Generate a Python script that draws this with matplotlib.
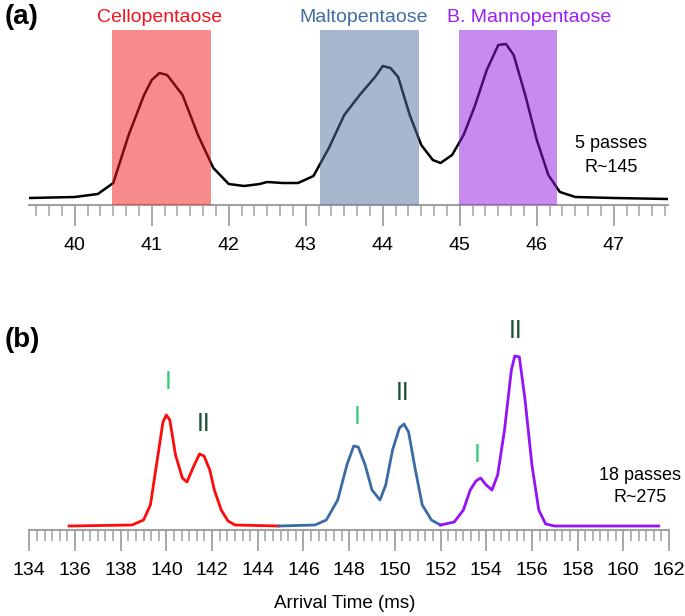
import numpy as np
import matplotlib.pyplot as plt
from matplotlib.ticker import MultipleLocator

plt.rcParams['font.family'] = ['Liberation Sans', 'DejaVu Sans']

# (a) 5 passes, mixture trace
t_a = [39.41, 40.0, 40.3, 40.5, 40.7, 40.9, 41.0, 41.1, 41.2, 41.4, 41.6, 41.8,
       42.0, 42.2, 42.4, 42.5, 42.7, 42.9, 43.1, 43.3, 43.5, 43.7, 43.9, 44.0,
       44.1, 44.2, 44.35, 44.5, 44.65, 44.75, 44.9, 45.05, 45.2, 45.35, 45.5,
       45.6, 45.7, 45.85, 46.0, 46.15, 46.3, 46.5, 47.0, 47.7]
i_a = [7, 8, 11, 22, 70, 110, 125, 132, 130, 110, 70, 37,
       21, 19, 21, 23, 22, 22, 29, 57, 90, 110, 128, 139,
       137, 128, 90, 60, 45, 42, 50, 70, 100, 135, 160,
       161, 150, 110, 65, 30, 13, 8, 7, 6]

# shaded windows
box_names = ['Cellopentaose', 'Maltopentaose', 'B. Mannopentaose']
box_start = [40.49, 43.18, 44.99]
box_end = [41.77, 44.47, 46.26]
box_colors = ['#f11919', '#50709c', '#9119e1']
name_colors = ['#f0141e', '#3f6ea3', '#9b1ef5']

# (b) 18 passes, separate traces
t_cello = [135.74, 138.5, 139.0, 139.3, 139.6, 139.85, 140.0, 140.15, 140.4, 140.7,
           140.9, 141.2, 141.45, 141.65, 141.9, 142.1, 142.4, 142.7, 143.0, 144.93]
i_cello = [4, 5, 10, 25, 70, 108, 115, 110, 75, 52,
           48, 64, 76, 74, 60, 40, 20, 9, 5, 4]
t_malto = [144.93, 146.5, 147.0, 147.5, 147.9, 148.2, 148.4, 148.7, 149.0, 149.35,
           149.6, 149.9, 150.2, 150.4, 150.6, 150.9, 151.2, 151.6, 152.0]
i_malto = [4, 5, 10, 30, 65, 84, 83, 65, 40, 30,
           45, 80, 102, 106, 98, 60, 25, 10, 5]
t_manno = [152.0, 152.6, 153.0, 153.3, 153.55, 153.75, 154.0, 154.25, 154.5, 154.8,
           155.1, 155.25, 155.45, 155.7, 156.0, 156.3, 156.6, 157.0, 161.55]
i_manno = [5, 8, 20, 40, 49, 52, 45, 40, 55, 100,
           160, 174, 173, 130, 65, 20, 6, 4, 4]
trace_colors = ['#ff0a0a', '#3b6ba3', '#9412f7']

# conformer labels
lab_text = ['I', 'II', 'I', 'II', 'I', 'II']
lab_x = [140.07, 141.65, 148.34, 150.35, 153.59, 155.3]
lab_y = [148, 106, 113, 137, 75, 199]
lab_colors = ['#33cc77', '#1e5038', '#33cc77', '#1e5038', '#33cc77', '#1e5038']

W, H = 685, 616
fig = plt.figure(figsize=(W / 100, H / 100), dpi=100)

def px_axes(x0, x1, ytop, ybot):
    return fig.add_axes([x0 / W, (H - ybot) / H, (x1 - x0) / W, (ybot - ytop) / H])

def style_axis(ax, major, minor):
    for s in ['left', 'right', 'top']:
        ax.spines[s].set_visible(False)
    ax.spines['bottom'].set_color('#a0a0a0')
    ax.spines['bottom'].set_linewidth(1.5)
    ax.set_yticks([])
    ax.xaxis.set_major_locator(MultipleLocator(major))
    ax.xaxis.set_minor_locator(MultipleLocator(minor))
    ax.tick_params(axis='x', which='major', direction='out', length=15, width=1.3,
                   color='#a0a0a0', labelsize=14, pad=8)
    ax.tick_params(axis='x', which='minor', direction='out', length=8, width=1.1,
                   color='#a0a0a0')
    ax.patch.set_visible(False)

# panel (a)
ax1 = px_axes(29.3, 667.7, 5, 205)
ax1.set_xlim(39.41, 47.70)
ax1.set_ylim(0, 200)
ax1.plot(t_a, i_a, color='black', lw=1.8, zorder=2)
for name, s, e, c in zip(box_names, box_start, box_end, box_colors):
    ax1.axvspan(s, e, ymin=0, ymax=175 / 200, color=c, alpha=0.5, lw=0, zorder=3)
ax1.text(41.1, 188, box_names[0], color=name_colors[0], ha='center', va='center', fontsize=14)
ax1.text(43.75, 188, box_names[1], color=name_colors[1], ha='center', va='center', fontsize=14)
ax1.text(45.9, 188, box_names[2], color=name_colors[2], ha='center', va='center', fontsize=14)
ax1.text(46.97, 62, '5 passes', ha='center', va='center', fontsize=13)
ax1.text(46.97, 37, 'R~145', ha='center', va='center', fontsize=13)
style_axis(ax1, 1, 1 / 6)

# panel (b)
ax2 = px_axes(29.3, 669, 300, 530)
ax2.set_xlim(134, 162)
ax2.set_ylim(0, 230)
for t, i, c in zip([t_cello, t_malto, t_manno], [i_cello, i_malto, i_manno], trace_colors):
    ax2.plot(t, i, color=c, lw=2.0)
for s, x, y, c in zip(lab_text, lab_x, lab_y, lab_colors):
    ax2.text(x, y, s, color=c, ha='center', va='center', fontsize=18)
ax2.text(160.75, 55, '18 passes', ha='center', va='center', fontsize=13)
ax2.text(160.75, 32, 'R~275', ha='center', va='center', fontsize=13)
style_axis(ax2, 2, 1 / 3)

fig.text(22 / W, 1 - 17 / H, '(a)', fontsize=20, fontweight='bold', ha='center', va='center')
fig.text(22 / W, 1 - 340 / H, '(b)', fontsize=20, fontweight='bold', ha='center', va='center')
fig.text(345 / W, 1 - 603 / H, 'Arrival Time (ms)', fontsize=13.5, ha='center', va='center')

fig.savefig('out.png', dpi=100)
